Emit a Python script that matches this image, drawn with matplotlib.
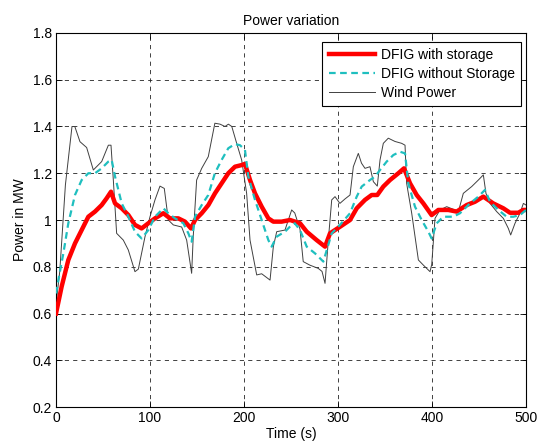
import matplotlib
matplotlib.use("Agg")
import matplotlib.pyplot as plt

plt.rcParams['font.family'] = ['Liberation Sans', 'DejaVu Sans']

# Wind Power (black thin)
t_wind = [0, 4, 10, 17, 20, 25.5, 32.6, 39.7, 48.6, 55.7, 58.5, 61, 64.5, 71.6, 76.9, 84, 87.6,
          94.7, 100, 105.3, 110.6, 115.2, 119.5, 124.8, 133.7, 139, 144.3, 146, 149.6, 155, 162,
          169, 174.5, 179.8, 183.4, 187, 192.2, 197.5, 202.8, 206.4, 213.5, 218.8, 227.7, 231.2,
          234.8, 243.6, 250.7, 254, 259.6, 263, 270, 279, 283, 286.2, 289.7, 293.3, 296.8, 302,
          307.4, 312.8, 316.3, 321.6, 325, 328.7, 334, 337.6, 341.8, 344.7, 348.2, 353.5, 360.6,
          367.7, 371.3, 373, 378.4, 385.5, 390.8, 397.9, 399.7, 403.2, 408.5, 415.6, 424.5, 428,
          433.3, 442.2, 449.3, 454.6, 457.4, 461.7, 468.8, 475.9, 481.2, 483.7, 488.3, 493.6,
          497.2, 500]
p_wind = [0.64, 0.78, 1.15, 1.40, 1.40, 1.335, 1.31, 1.214, 1.25, 1.32, 1.32, 1.17, 0.943, 0.914,
          0.872, 0.779, 0.79, 0.929, 1.014, 1.086, 1.145, 1.135, 1.0, 0.979, 0.97, 0.914, 0.772,
          0.93, 1.171, 1.221, 1.271, 1.414, 1.41, 1.40, 1.41, 1.40, 1.328, 1.257, 1.114, 0.914,
          0.765, 0.77, 0.743, 0.886, 0.95, 0.957, 1.043, 1.03, 0.96, 0.822, 0.807, 0.793, 0.78,
          0.729, 0.914, 1.086, 1.1, 1.071, 1.09, 1.107, 1.228, 1.285, 1.243, 1.221, 1.228, 1.164,
          1.145, 1.257, 1.328, 1.35, 1.336, 1.328, 1.32, 1.157, 1.029, 0.829, 0.807, 0.779, 0.81,
          1.007, 1.043, 1.057, 1.043, 1.035, 1.114, 1.143, 1.171, 1.193, 1.114, 1.071, 1.036,
          1.007, 0.964, 0.936, 0.986, 1.029, 1.071, 1.064]

# DFIG with storage (red thick)
t_st = [0, 6, 13.1, 20.2, 27.3, 34.4, 41.5, 48.6, 53.9, 58.5, 62.8, 69.9, 77, 84, 91.1, 98.2,
        105.3, 114.2, 121.3, 130.1, 137.2, 143.6, 147.9, 155, 162.1, 169.1, 176.2, 183.3, 190.4,
        197.5, 201, 206.4, 211.7, 218.8, 225.9, 231.2, 240, 249, 259.6, 266.7, 277.3, 286.2,
        291.5, 302.1, 312.8, 319.9, 328.7, 335.8, 341.8, 348.2, 355.3, 364.2, 370.2, 376.6,
        383.7, 390.8, 399.6, 406.7, 417.3, 426.2, 436.9, 445.7, 454.6, 465.2, 475.9, 483,
        491.8, 497, 500]
p_st = [0.6, 0.715, 0.829, 0.9, 0.957, 1.014, 1.036, 1.064, 1.093, 1.121, 1.071, 1.05, 1.021,
        0.979, 0.964, 0.986, 1.007, 1.029, 1.007, 1.007, 0.993, 0.964, 1.0, 1.029, 1.064, 1.114,
        1.157, 1.2, 1.228, 1.235, 1.24, 1.171, 1.114, 1.057, 1.007, 0.993, 0.993, 1.0, 0.986,
        0.95, 0.914, 0.886, 0.943, 0.971, 1.0, 1.05, 1.086, 1.107, 1.107, 1.143, 1.171, 1.2,
        1.221, 1.157, 1.107, 1.071, 1.021, 1.043, 1.043, 1.036, 1.064, 1.078, 1.1, 1.071, 1.05,
        1.031, 1.031, 1.043, 1.043]

# DFIG without storage (cyan dashed)
t_ns = [0, 2.5, 7.8, 13.1, 20.2, 27.3, 34.4, 41.5, 48.6, 55.7, 59.2, 62.8, 69.9, 77, 84, 91.1,
        98.2, 105.3, 114.2, 119.5, 126.6, 135.5, 140.8, 144.3, 147.9, 155, 162, 169, 176.2,
        183.3, 190.4, 195.7, 201, 204.6, 211.7, 218.8, 225.9, 229.4, 234.8, 243.6, 250.7, 254,
        259.6, 266.7, 275.6, 284.4, 288, 293.3, 302, 312.8, 319.9, 325.2, 334, 339.4, 344.7,
        351.8, 358.9, 366, 371.3, 374.8, 381.9, 389, 396.1, 399.6, 405, 412, 422.7, 429.8,
        440.4, 449.3, 456.4, 461.7, 470.6, 479.4, 486.5, 493.6, 500]
p_ns = [0.686, 0.743, 0.857, 0.986, 1.107, 1.171, 1.2, 1.2, 1.221, 1.25, 1.257, 1.186, 1.071,
        1.014, 0.95, 0.921, 0.957, 1.014, 1.05, 1.029, 1.007, 0.986, 0.943, 0.907, 1.014, 1.064,
        1.107, 1.2, 1.257, 1.307, 1.325, 1.32, 1.3, 1.186, 1.086, 1.0, 0.914, 0.886, 0.929, 0.95,
        0.979, 0.986, 0.957, 0.886, 0.857, 0.822, 0.871, 0.943, 0.979, 1.029, 1.1, 1.143, 1.171,
        1.186, 1.214, 1.25, 1.278, 1.292, 1.285, 1.157, 1.057, 1.0, 0.95, 0.921, 0.986, 1.014,
        1.014, 1.029, 1.071, 1.1, 1.129, 1.078, 1.043, 1.014, 1.014, 1.021, 1.043]

x_ticks = [0, 100, 200, 300, 400, 500]
y_ticks = [0.2, 0.4, 0.6, 0.8, 1.0, 1.2, 1.4, 1.6, 1.8]
y_labels = ['0.2', '0.4', '0.6', '0.8', '1', '1.2', '1.4', '1.6', '1.8']

fig = plt.figure(figsize=(5.39, 4.44), dpi=100)
ax = fig.add_axes([0.1039, 0.0833, 0.872, 0.8424])

ax.plot(t_st, p_st, color='#ff0000', lw=3.2, label='DFIG with storage', zorder=3)
ax.plot(t_ns, p_ns, color='#1fbfbf', lw=1.6, ls=(0, (3, 2)), label='DFIG without Storage', zorder=4)
ax.plot(t_wind, p_wind, color='#404040', lw=0.7, label='Wind Power', zorder=2)

ax.set_xlim(0, 500)
ax.set_ylim(0.2, 1.8)
ax.set_xticks(x_ticks)
ax.set_yticks(y_ticks)
ax.set_yticklabels(y_labels)
ax.tick_params(direction='in', top=True, right=True, labelsize=10, length=4, width=0.6, pad=3)
ax.grid(True, color='#222222', ls=(0, (5, 5)), lw=0.6)
for s in ax.spines.values():
    s.set_linewidth(0.8)

ax.set_title('Power variation', fontsize=10, pad=6)
ax.set_xlabel('Time (s)', fontsize=10, labelpad=1)
ax.set_ylabel('Power in MW', fontsize=10, labelpad=4)

leg = ax.legend(loc='upper right', bbox_to_anchor=(0.9894, 0.976), borderaxespad=0,
                fontsize=10, fancybox=False, edgecolor='black', framealpha=1,
                handlelength=3.3, handletextpad=0.45, labelspacing=0.35, borderpad=0.45)
leg.get_frame().set_linewidth(0.8)

fig.savefig('out.png', dpi=100)
